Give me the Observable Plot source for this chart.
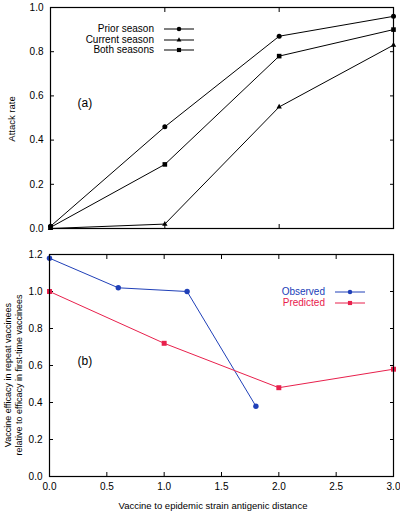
<!DOCTYPE html>
<html><head><meta charset="utf-8">
<script src="https://cdn.jsdelivr.net/npm/d3@7"></script>
<script src="https://cdn.jsdelivr.net/npm/@observablehq/plot@0.6"></script>
<style>
body{margin:0;background:#fff;font-family:"Liberation Sans",Arial,sans-serif;}
#wrap{position:relative;width:400px;height:514px;overflow:hidden;}
#wrap > svg, #wrap > figure{position:absolute;left:0;margin:0;}
.lab{position:absolute;white-space:nowrap;color:#000;line-height:1.25;text-align:center;}
.rot{transform:translate(-50%,-50%) rotate(-90deg);}
.legend{position:absolute;font-size:10px;line-height:10.5px;}
.legend .row{display:flex;align-items:center;justify-content:flex-end;height:10.5px;}
.legend svg{margin-left:10px;}
</style></head><body><div id="wrap"></div>
<script>
// ---- data ----
const distanceA = [0, 1, 2, 3];
const priorSeason = [0.01, 0.46, 0.87, 0.96];
const currentSeason = [0.0, 0.02, 0.55, 0.83];
const bothSeasons = [0.005, 0.29, 0.78, 0.90];
const seriesA = ["Prior season", "Current season", "Both seasons"];
const symbolsA = ["circle", "triangle", "square"];

const observedX = [0, 0.6, 1.2, 1.8];
const observedY = [1.18, 1.02, 1.0, 0.38];
const predictedX = [0, 1, 2, 3];
const predictedY = [1.0, 0.72, 0.48, 0.58];
const seriesB = ["Observed", "Predicted"];
const colorsB = ["#2040b8", "#e8204c"];
const symbolsB = ["circle", "square"];

const ticksAX = [1, 2];
const ticksAY = [0, 0.2, 0.4, 0.6, 0.8, 1.0];
const ticksBX = [0, 0.5, 1, 1.5, 2, 2.5, 3];
const ticksBY = [0, 0.2, 0.4, 0.6, 0.8, 1.0, 1.2];

const labelAY = "Attack rate";
const labelBY = ["Vaccine efficacy in repeat vaccinees", "relative to efficacy in first-time vaccinees"];
const labelX = "Vaccine to epidemic strain antigenic distance";

// ---- tables ----
const valsA = [priorSeason, currentSeason, bothSeasons];
const tableA = seriesA.flatMap((s, i) => distanceA.map((d, j) => ({series: s, x: d, y: valsA[i][j]})));
const tableB = [
  ...observedX.map((x, i) => ({series: "Observed", x, y: observedY[i]})),
  ...predictedX.map((x, i) => ({series: "Predicted", x, y: predictedY[i]}))
];
const markerR = {circle: 2.5, triangle: 2.0, square: 2.6};

const font = {fontFamily: "Liberation Sans, Arial, sans-serif", fontSize: "10px", color: "#000", background: "#fff", overflow: "visible"};
const wrap = document.getElementById("wrap");
const none = () => "";

// inward ticks on all four sides, labels separate
function frameTicks(tx, ty, fmtX, fmtY) {
  const m = [
    Plot.axisY({ticks: ty, anchor: "left", tickSize: 4, dx: 4, tickFormat: none, label: null}),
    Plot.axisY({ticks: ty, anchor: "right", tickSize: 4, dx: -4, tickFormat: none, label: null}),
    Plot.axisX({ticks: tx, anchor: "bottom", tickSize: 4, dy: -4, tickFormat: none, label: null}),
    Plot.axisX({ticks: tx, anchor: "top", tickSize: 4, dy: 4, tickFormat: none, label: null}),
    Plot.axisY({ticks: ty, anchor: "left", tickSize: 0, tickPadding: 7, tickFormat: fmtY, label: null})
  ];
  if (fmtX) m.push(Plot.axisX({ticks: tx, anchor: "bottom", tickSize: 0, tickPadding: 6, tickFormat: fmtX, label: null}));
  return m;
}

const plotA = Plot.plot({
  width: 400, height: 240,
  marginLeft: 50, marginRight: 7, marginTop: 7, marginBottom: 12,
  style: font,
  x: {domain: [0, 3]},
  y: {domain: [0, 1]},
  marks: [
    ...frameTicks(ticksAX, ticksAY, null, ".1f"),
    Plot.line(tableA, {x: "x", y: "y", z: "series", stroke: "#000", strokeWidth: 1}),
    ...seriesA.map((s, i) => Plot.dot(tableA, {filter: d => d.series === s, x: "x", y: "y",
      symbol: symbolsA[i], fill: "#000", r: markerR[symbolsA[i]]})),
    Plot.text(["(a)"], {frameAnchor: "top-left", dx: 27, dy: 91, fontSize: 12}),
    Plot.frame({stroke: "#000", strokeWidth: 1.2})
  ]
});
plotA.style.top = "0px";
wrap.appendChild(plotA);

const plotB = Plot.plot({
  width: 400, height: 274,
  marginLeft: 49, marginRight: 7, marginTop: 4, marginBottom: 48,
  style: font,
  x: {domain: [0, 3]},
  y: {domain: [0, 1.2]},
  color: {domain: seriesB, range: colorsB},
  marks: [
    ...frameTicks(ticksBX, ticksBY, ".1f", ".1f"),
    Plot.line(tableB, {x: "x", y: "y", z: "series", stroke: "series", strokeWidth: 1}),
    ...seriesB.map((s, i) => Plot.dot(tableB, {filter: d => d.series === s, x: "x", y: "y",
      symbol: symbolsB[i], fill: colorsB[i], r: symbolsB[i] === "square" ? 2.8 : 2.7})),
    Plot.text(["(b)"], {frameAnchor: "top-left", dx: 28, dy: 102, fontSize: 12}),
    Plot.frame({stroke: "#000", strokeWidth: 1.2})
  ]
});
plotB.style.top = "250px";
wrap.appendChild(plotB);

// ---- axis titles ----
function addLabel(html, cx, cy, size, rotate) {
  const d = document.createElement("div");
  d.className = "lab" + (rotate ? " rot" : "");
  d.style.left = cx + "px";
  d.style.top = cy + "px";
  d.style.fontSize = size + "px";
  if (!rotate) d.style.transform = "translate(-50%,-50%)";
  d.innerHTML = html;
  wrap.appendChild(d);
}
addLabel(labelAY, 12, 119, 9.5, true);
addLabel(labelBY.join("<br>"), 14, 375, 9, true);
addLabel(labelX, 213, 506, 9.5, false);

// ---- legends ----
function legend(names, colors, symbols, right, top, lineW) {
  const box = document.createElement("div");
  box.className = "legend";
  box.style.right = (400 - right) + "px";
  box.style.top = top + "px";
  names.forEach((n, i) => {
    const row = document.createElement("div");
    row.className = "row";
    row.style.color = colors[i];
    const t = document.createElement("span");
    t.textContent = n;
    row.appendChild(t);
    const s = d3.create("svg").attr("width", lineW).attr("height", 10);
    s.append("line").attr("x1", 0).attr("x2", lineW).attr("y1", 5).attr("y2", 5)
      .attr("stroke", colors[i]).attr("stroke-width", 1);
    const sym = {circle: d3.symbolCircle, triangle: d3.symbolTriangle, square: d3.symbolSquare}[symbols[i]];
    const r = markerR[symbols[i]] * 0.9;
    s.append("path").attr("transform", `translate(${lineW / 2},5)`)
      .attr("d", d3.symbol(sym, r * r * Math.PI)()).attr("fill", colors[i]);
    row.appendChild(s.node());
    box.appendChild(row);
  });
  wrap.appendChild(box);
}
legend(seriesA, ["#000", "#000", "#000"], symbolsA, 194, 24, 30);
legend(seriesB, colorsB, symbolsB, 365, 287, 30);
</script>
</body></html>
